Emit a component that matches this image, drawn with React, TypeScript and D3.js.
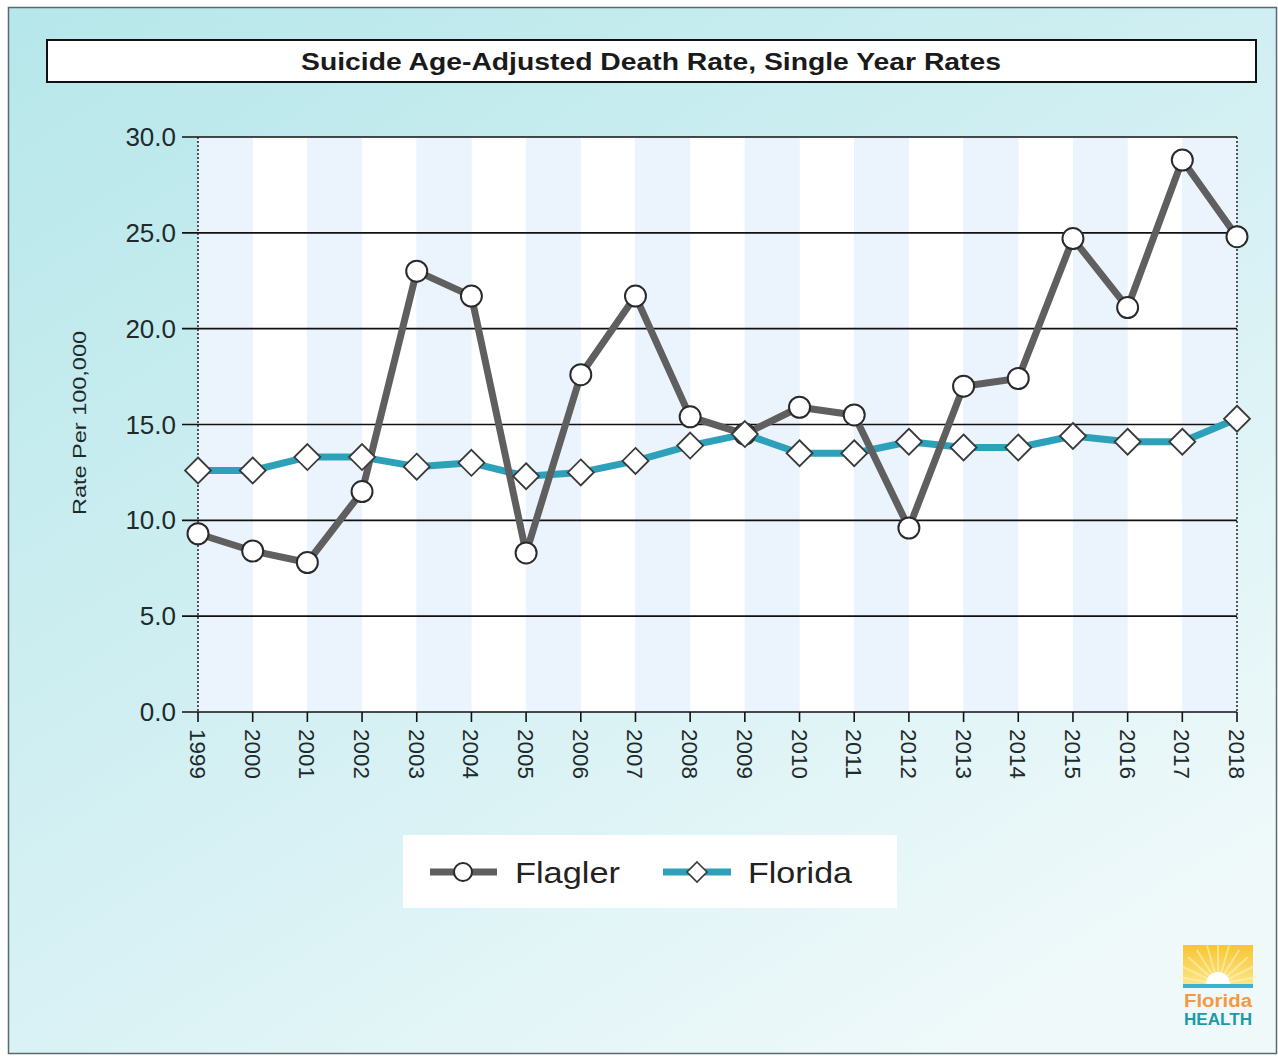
import React from "react";
import * as d3 from "d3";

const years = [1999, 2000, 2001, 2002, 2003, 2004, 2005, 2006, 2007, 2008, 2009, 2010, 2011, 2012, 2013, 2014, 2015, 2016, 2017, 2018];
const flagler = [9.3, 8.4, 7.8, 11.5, 23.0, 21.7, 8.3, 17.6, 21.7, 15.4, 14.5, 15.9, 15.5, 9.6, 17.0, 17.4, 24.7, 21.1, 28.8, 24.8];
const florida = [12.6, 12.6, 13.3, 13.3, 12.8, 13.0, 12.3, 12.5, 13.1, 13.9, 14.5, 13.5, 13.5, 14.1, 13.8, 13.8, 14.4, 14.1, 14.1, 15.3];
const yTicks = [0, 5, 10, 15, 20, 25, 30];
const seriesNames = ["Flagler", "Florida"];
const title = "Suicide Age-Adjusted Death Rate, Single Year Rates";
const yTitle = "Rate Per 100,000";

const W = 1278;
const H = 1056;
const L = 198, R = 1237, T = 137, B = 712;

export default function App() {
  const x = d3.scaleLinear().domain([1999, 2018]).range([L, R]);
  const y = d3.scaleLinear().domain([0, 30]).range([B, T]);
  const line = d3.line<number>().x((_, i) => x(years[i])).y((d) => y(d));
  const diamond = (h: number) => `M0,${-h}L${h},0L0,${h}L${-h},0Z`;
  const font = "Arial, 'Liberation Sans', sans-serif";
  const flaglerColor = "#5f5f5f";
  const floridaColor = "#2ea1ba";

  return (
    <>
      <style>{"body{margin:0}"}</style>
      <svg width={W} height={H} style={{ display: "block" }} fontFamily={font}>
        <defs>
          <linearGradient id="bg" x1="0" y1="0" x2="0.75" y2="1">
            <stop offset="0" stopColor="#b6e7ea" />
            <stop offset="0.55" stopColor="#d4f0f3" />
            <stop offset="1" stopColor="#eff9fa" />
          </linearGradient>
          <linearGradient id="sun" x1="0" y1="0" x2="0" y2="1">
            <stop offset="0" stopColor="#f7c531" />
            <stop offset="1" stopColor="#fde58a" />
          </linearGradient>
        </defs>
        <rect x={0} y={0} width={W} height={H} fill="#ffffff" />
        <rect x={8.5} y={7.5} width={W - 10} height={H - 10} fill="url(#bg)" stroke="#5a6a6c" strokeWidth={1.5} />

        {/* title */}
        <rect x={47} y={40} width={1209} height={42} fill="#ffffff" stroke="#111" strokeWidth={2} />
        <text x={651} y={70} textAnchor="middle" fontSize={23} fontWeight="bold" fill="#1a1a1a" textLength={700} lengthAdjust="spacingAndGlyphs">{title}</text>

        {/* plot bands */}
        {years.slice(0, -1).map((yr, i) => (
          <rect key={yr} x={x(yr)} y={T} width={x(years[i + 1]) - x(yr)} height={B - T} fill={i % 2 === 0 ? "#ebf4fd" : "#ffffff"} />
        ))}

        {/* gridlines + y ticks */}
        {yTicks.map((t) => (
          <g key={t}>
            <line x1={182} x2={R} y1={y(t)} y2={y(t)} stroke="#111" strokeWidth={1.6} />
            <text x={176} y={y(t) + 9} textAnchor="end" fontSize={26} fill="#1f2a2c">{t.toFixed(1)}</text>
          </g>
        ))}
        <line x1={L} x2={L} y1={T} y2={B} stroke="#222" strokeWidth={1.5} strokeDasharray="2,2" />
        <line x1={R} x2={R} y1={T} y2={B} stroke="#222" strokeWidth={1.5} strokeDasharray="2,2" />

        {/* x ticks */}
        {years.map((yr) => (
          <g key={yr}>
            <line x1={x(yr)} x2={x(yr)} y1={B} y2={B + 10} stroke="#111" strokeWidth={1.6} />
            <text transform={`translate(${x(yr) - 8},${729}) rotate(90)`} fontSize={22} fill="#1f2a2c" textLength={50} lengthAdjust="spacingAndGlyphs">{yr}</text>
          </g>
        ))}

        <text transform={`translate(86,${423}) rotate(-90)`} textAnchor="middle" fontSize={19} fill="#1f2a2c" textLength={184} lengthAdjust="spacingAndGlyphs">{yTitle}</text>

        {/* series lines */}
        <path d={line(florida) || ""} fill="none" stroke={floridaColor} strokeWidth={7} strokeLinejoin="round" />
        <path d={line(flagler) || ""} fill="none" stroke={flaglerColor} strokeWidth={7} strokeLinejoin="round" />
        {flagler.map((v, i) => (
          <circle key={"c" + i} cx={x(years[i])} cy={y(v)} r={10.5} fill="#ffffff" stroke="#2a2a2a" strokeWidth={2} />
        ))}
        {florida.map((v, i) => (
          <path key={"d" + i} d={diamond(13)} transform={`translate(${x(years[i])},${y(v)})`} fill="#ffffff" stroke="#3a3a3a" strokeWidth={1.8} />
        ))}

        {/* legend */}
        <rect x={403} y={835} width={494} height={73} fill="#ffffff" />
        <line x1={430} x2={497} y1={872} y2={872} stroke={flaglerColor} strokeWidth={7} />
        <circle cx={463} cy={872} r={9} fill="#ffffff" stroke="#2a2a2a" strokeWidth={2} />
        <text x={515} y={883} fontSize={30} fill="#222" textLength={105} lengthAdjust="spacingAndGlyphs">{seriesNames[0]}</text>
        <line x1={663} x2={731} y1={872} y2={872} stroke={floridaColor} strokeWidth={7} />
        <path d={diamond(10)} transform="translate(697,872)" fill="#ffffff" stroke="#3a3a3a" strokeWidth={1.6} />
        <text x={748} y={883} fontSize={30} fill="#222" textLength={104} lengthAdjust="spacingAndGlyphs">{seriesNames[1]}</text>

        {/* logo */}
        <g>
          <rect x={1183} y={945} width={70} height={40} fill="url(#sun)" />
          {d3.range(-80, 81, 16).map((a) => (
            <line key={a} x1={1218} y1={984} x2={1218 + 40 * Math.sin((a * Math.PI) / 180)} y2={984 - 40 * Math.cos((a * Math.PI) / 180)} stroke="#fff3b8" strokeWidth={2} opacity={0.6} />
          ))}
          <path d="M1206,984 A12,12 0 0 1 1230,984 Z" fill="#ffffff" />
          <rect x={1183} y={984} width={70} height={4} fill="#3bb3c8" />
          <text x={1218} y={1007} textAnchor="middle" fontSize={18} fill="#f29a45" fontWeight="bold" textLength={68} lengthAdjust="spacingAndGlyphs">Florida</text>
          <text x={1218} y={1025} textAnchor="middle" fontSize={17} fill="#1c9aa8" fontWeight="bold" textLength={68} lengthAdjust="spacingAndGlyphs">HEALTH</text>
        </g>
      </svg>
    </>
  );
}
